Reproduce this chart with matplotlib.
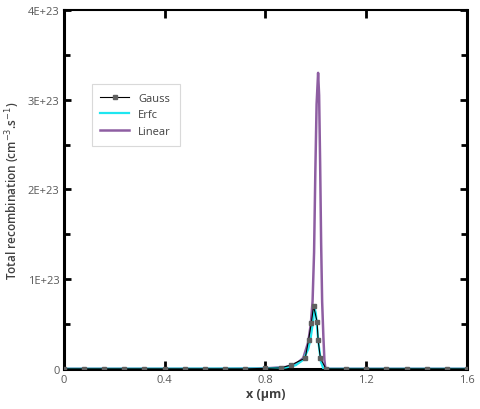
import matplotlib
matplotlib.use("Agg")
import matplotlib.pyplot as plt
import numpy as np
from matplotlib.ticker import MultipleLocator

plt.rcParams['font.family'] = ['Open Sans', 'DejaVu Sans']
plt.rcParams['mathtext.fontset'] = 'dejavusans'

# Gauss profile (units of 1e23 cm^-3.s^-1)
gauss_x = [0.0, 0.08, 0.16, 0.24, 0.32, 0.40, 0.48, 0.56, 0.64, 0.72, 0.80, 0.86,
           0.90, 0.958, 0.971, 0.982, 0.991, 1.005, 1.009, 1.018, 1.04, 1.12,
           1.20, 1.28, 1.36, 1.44, 1.52, 1.60]
gauss_y = [0, 0, 0, 0, 0, 0, 0, 0, 0, 0, 0.005, 0.01,
           0.04, 0.12, 0.32, 0.51, 0.70, 0.525, 0.32, 0.12, 0, 0,
           0, 0, 0, 0, 0, 0]

# Erfc profile
erfc_x = [0.0, 0.80, 0.88, 0.92, 0.95, 0.97, 0.98, 0.99, 0.995, 1.0, 1.01, 1.02, 1.03, 1.60]
erfc_y = [0, 0.003, 0.015, 0.04, 0.10, 0.22, 0.35, 0.55, 0.68, 0.62, 0.30, 0.08, 0, 0]

# Linear profile
lin_x = [0.0, 0.60, 0.80, 0.88, 0.92, 0.95, 0.97, 0.98, 0.987, 0.993, 0.998, 1.003,
         1.009, 1.013, 1.017, 1.021, 1.025, 1.03, 1.034, 1.038, 1.60]
lin_y = [0, 0, 0.005, 0.02, 0.05, 0.12, 0.30, 0.50, 0.75, 1.30, 2.20, 2.95,
         3.3, 3.05, 2.3, 1.4, 0.75, 0.35, 0.10, 0, 0]

yticks = [0, 1, 2, 3, 4]
ytick_labels = ['0', '1E+23', '2E+23', '3E+23', '4E+23']
xticks = [0, 0.4, 0.8, 1.2, 1.6]
xtick_labels = ['0', '0.4', '0.8', '1.2', '1.6']

fig = plt.figure(figsize=(4.8, 4.1), dpi=100)
ax = fig.add_axes([0.133, 0.098, 0.840, 0.875])

ax.plot(lin_x, lin_y, color='#8e5ea2', lw=1.8, label='Linear', zorder=2)
ax.plot(erfc_x, erfc_y, color='#1ee6f0', lw=1.6, label='Erfc', zorder=3)
ax.plot(gauss_x, gauss_y, color='black', lw=0.8, marker='s', markersize=2.3,
        markerfacecolor='#606060', markeredgecolor='#606060', label='Gauss', zorder=4)

ax.set_xlim(0, 1.6)
ax.set_ylim(0, 4)
ax.set_xticks(xticks)
ax.set_xticklabels(xtick_labels)
ax.set_yticks(yticks)
ax.set_yticklabels(ytick_labels)
ax.yaxis.set_minor_locator(MultipleLocator(0.5))

ax.tick_params(axis='both', which='both', direction='in', labelsize=8,
               labelcolor='#595959', width=2, color='black')
ax.tick_params(axis='y', which='both', right=True)
ax.tick_params(axis='x', which='major', top=True, length=6, pad=4)
ax.tick_params(axis='y', which='major', length=5, pad=3)
ax.tick_params(axis='y', which='minor', length=4)

for side in ['left', 'bottom', 'right']:
    ax.spines[side].set_linewidth(2.2)
ax.spines['top'].set_linewidth(1.5)

ax.set_xlabel('x (µm)', fontsize=9, fontweight='bold', color='#404040', labelpad=1)
ax.set_ylabel('Total recombination (cm$^{-3}$.s$^{-1}$)', fontsize=8.5,
              fontweight='semibold', color='#404040', labelpad=4)

handles, labels = ax.get_legend_handles_labels()
order = [2, 1, 0]
leg = ax.legend([handles[i] for i in order], [labels[i] for i in order],
                loc='upper left', bbox_to_anchor=(0.055, 0.81), fontsize=8,
                frameon=True, fancybox=False, handlelength=2.6, borderpad=0.8,
                labelspacing=0.5)
leg.get_frame().set_edgecolor('#d0d0d0')
leg.get_frame().set_linewidth(0.8)
for t in leg.get_texts():
    t.set_color('#404040')

fig.savefig('out.png', dpi=100)
